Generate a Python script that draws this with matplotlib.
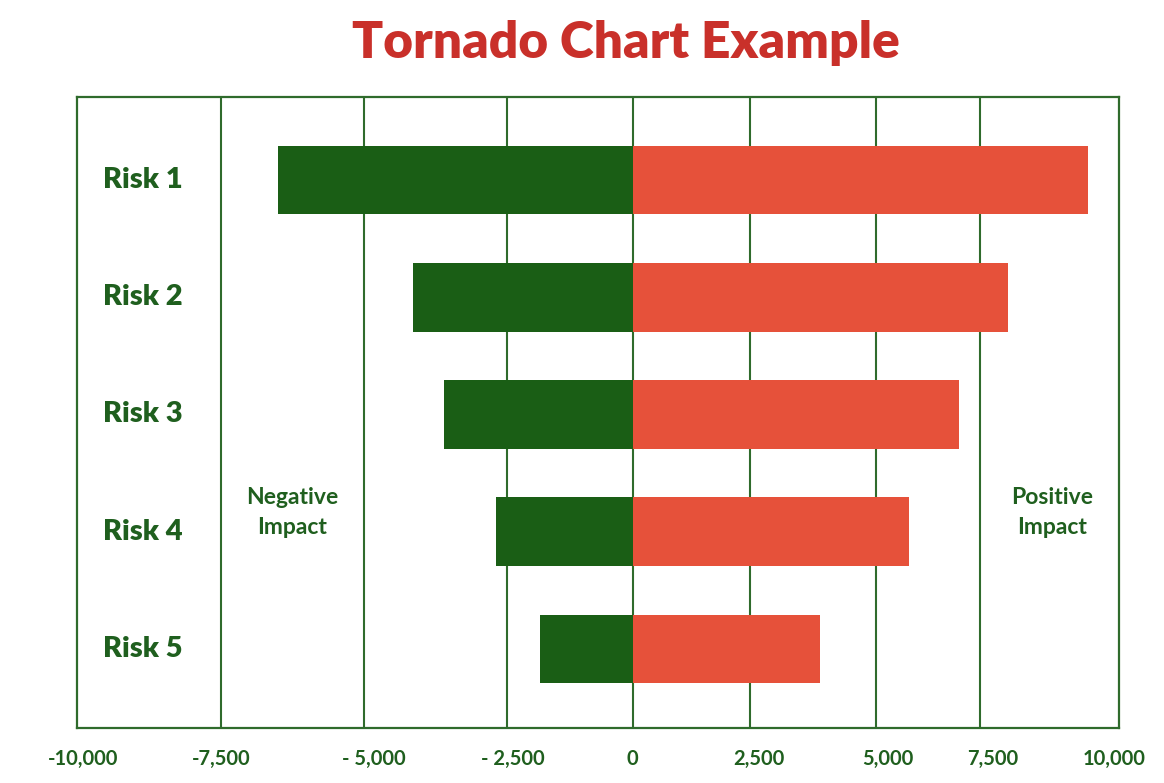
import numpy as np
import matplotlib
matplotlib.use("Agg")
import matplotlib.pyplot as plt
from matplotlib.transforms import ScaledTranslation

# ---- data ----
risks = ["Risk 1", "Risk 2", "Risk 3", "Risk 4", "Risk 5"]
negative_impact = [-6500, -4150, -3600, -2700, -1850]
positive_impact = [9450, 8000, 7000, 5800, 3900]
tick_values = [-10000, -7500, -5000, -2500, 0, 2500, 5000, 7500, 10000]
tick_labels = ["-10,000", "-7,500", "- 5,000", "- 2,500", "0", "2,500", "5,000", "7,500", "10,000"]

# ---- style / layout ----
FIG_W, FIG_H = 1164, 783
DPI = 100
# the original axis is hand drawn: gridlines are not evenly spaced
grid_px = np.array([76.5, 220.7, 364.2, 507.0, 632.6, 750.4, 875.5, 980.2, 1118.7])
label_shift_px = [7, 0, 10, 6, 0, 8, 12, 12, -5]
tv = np.array(tick_values, dtype=float)

def fwd(x):
    return np.interp(x, tv, grid_px)

def inv(p):
    return np.interp(p, grid_px, tv)

GREEN_BAR = "#1a5e15"
RED_BAR = "#e6513a"
LINE_GREEN = "#2f6b2c"
TEXT_GREEN = "#1f5f1e"
TITLE_RED = "#c9302a"
FONT = ["Lato", "DejaVu Sans"]

fig = plt.figure(figsize=(FIG_W / DPI, FIG_H / DPI), dpi=DPI)
left, right = 76.5 / FIG_W, 1118.7 / FIG_W
top, bottom = 1 - 96.7 / FIG_H, 1 - 728.3 / FIG_H
ax = fig.add_axes([left, bottom, right - left, top - bottom])
ax.set_xscale("function", functions=(fwd, inv))
ax.set_xlim(-10000, 10000)

y = np.arange(len(risks))
bar_h = 0.585
ax.barh(y, negative_impact, height=bar_h, color=GREEN_BAR, zorder=3)
ax.barh(y, positive_impact, height=bar_h, color=RED_BAR, zorder=3)
ax.set_ylim(4.678, -0.712)

for v in tick_values[1:-1]:
    ax.axvline(v, color=LINE_GREEN, lw=1.5, zorder=1)

for s in ax.spines.values():
    s.set_color(LINE_GREEN)
    s.set_linewidth(1.6)

ax.set_yticks([])
ax.set_xticks(tick_values)
ax.set_xticklabels(tick_labels, fontsize=14.5, fontweight="bold", color=TEXT_GREEN, family=FONT)
ax.tick_params(axis="x", length=0, pad=15)
for lab, dx in zip(ax.get_xticklabels(), label_shift_px):
    lab.set_transform(lab.get_transform() + ScaledTranslation(dx / DPI, 0, fig.dpi_scale_trans))

for yi, name in zip(y, risks):
    ax.text(-8850, yi, name, ha="center", va="center", fontsize=21, fontweight="heavy",
            color=TEXT_GREEN, family=FONT, zorder=4)

ax.text(-6250, 2.835, "Negative\nImpact", ha="center", va="center", fontsize=16.5,
        fontweight="bold", color=TEXT_GREEN, family=FONT, linespacing=1.55)
ax.text(8800, 2.835, "Positive\nImpact", ha="center", va="center", fontsize=16.5,
        fontweight="bold", color=TEXT_GREEN, family=FONT, linespacing=1.55)

fig.text(626 / FIG_W, 1 - 43 / FIG_H, "Tornado Chart Example", ha="center", va="center",
         fontsize=37, fontweight="heavy", color=TITLE_RED, family=FONT)

fig.savefig("out.png", dpi=DPI, facecolor="white")
